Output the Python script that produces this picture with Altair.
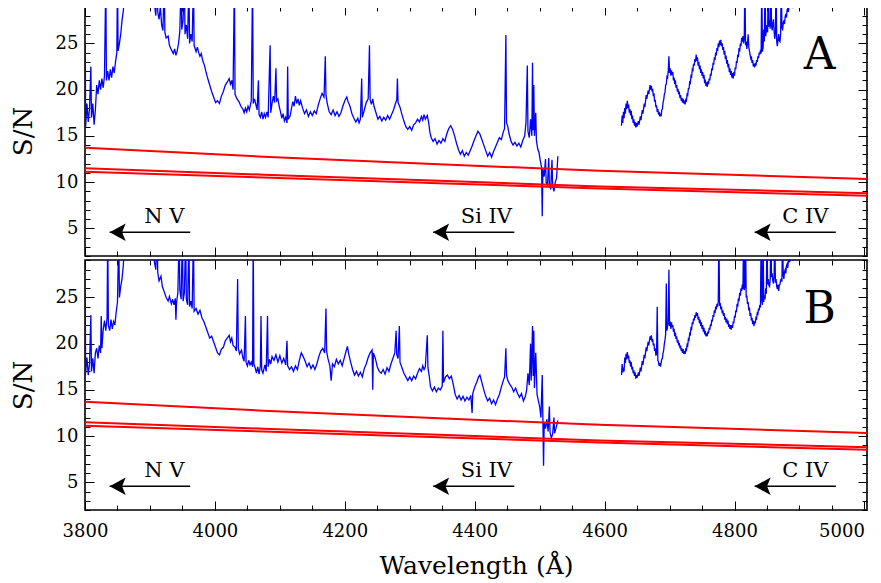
import altair as alt
import pandas as pd

FONT = "DejaVu Serif"
X_DOMAIN = [3800, 5004]
Y_DOMAIN = [2, 29.05]

# ---- Panel A spectrum (wavelength, S/N); values above 29 run off the top ----
A1 = [
    (3800, 16.3), (3800.5, 24.8), (3801, 16.0), (3803, 18.5), (3805, 16.5), (3807, 18.0), (3809, 22.5),
    (3810, 17.0), (3812, 18.5), (3814, 16.2), (3816, 17.8), (3818, 20.5), (3820, 19.5), (3822, 21.0),
    (3824, 20.0), (3826, 21.2), (3828, 20.2), (3830, 21.5), (3832, 32), (3833, 21.0), (3835, 22.0),
    (3837, 21.0), (3839, 22.2), (3841, 21.3), (3843, 22.5), (3845, 21.8), (3847, 23.0), (3849, 24.0),
    (3850, 32), (3851, 24.2), (3853, 25.0), (3855, 26.0), (3857, 27.5), (3859, 28.5), (3861, 30.5),
    (3905, 32), (3907, 29.2), (3909, 28.0), (3911, 32), (3912, 28.4), (3914, 27.6), (3916, 29.0),
    (3918, 27.0), (3920, 26.4), (3922, 32), (3923, 26.2), (3925, 25.6), (3928, 25.8), (3930, 24.8),
    (3933, 24.3), (3936, 23.9), (3938, 24.4), (3940, 23.7), (3942, 24.2), (3944, 25.0), (3946, 26.3),
    (3948, 32), (3949, 26.5), (3951, 27.5), (3953, 32), (3954, 26.0), (3956, 27.0), (3958, 25.5),
    (3960, 32), (3961, 25.0), (3963, 26.0), (3965, 25.2), (3967, 32), (3968, 24.8), (3971, 24.1),
    (3973, 24.6), (3975, 24.0), (3977, 23.6), (3979, 23.9), (3981, 23.2), (3984, 22.6), (3986, 22.0),
    (3989, 21.2), (3992, 20.5), (3995, 19.8), (3998, 19.2), (4001, 18.6), (4004, 18.8), (4007, 18.5),
    (4010, 19.3), (4013, 19.8), (4016, 20.5), (4019, 20.8), (4022, 21.2), (4024, 20.6), (4026, 21.0),
    (4028, 20.0), (4030, 32), (4031, 19.5), (4034, 19.0), (4037, 18.7), (4040, 18.2), (4043, 17.9),
    (4045, 17.5), (4047, 18.0), (4049, 17.6), (4051, 18.2), (4053, 17.8), (4056, 18.8), (4058, 32),
    (4059, 18.5), (4061, 19.0), (4063, 18.4), (4065, 17.8), (4067, 21.0), (4068, 17.3), (4070, 17.0),
    (4072, 17.6), (4074, 16.8), (4076, 17.4), (4078, 17.0), (4080, 17.6), (4082, 17.0), (4085, 24.8),
    (4086, 17.5), (4088, 18.5), (4090, 19.3), (4092, 18.6), (4094, 22.3), (4095, 18.8), (4097, 19.0),
    (4099, 18.2), (4101, 17.6), (4103, 16.9), (4105, 17.4), (4107, 16.6), (4109, 17.0), (4111, 16.4),
    (4112, 22.5), (4113, 16.8), (4116, 17.2), (4118, 18.0), (4120, 18.7), (4122, 18.2), (4124, 19.3),
    (4126, 18.5), (4128, 19.0), (4130, 18.3), (4132, 18.8), (4135, 18.0), (4138, 17.4), (4141, 17.8),
    (4144, 17.1), (4147, 17.6), (4150, 17.2), (4153, 17.7), (4156, 17.4), (4159, 18.3), (4162, 19.0),
    (4165, 19.6), (4168, 19.2), (4170, 23.6), (4171, 19.4), (4173, 18.5), (4176, 17.6), (4179, 17.3),
    (4182, 17.8), (4185, 17.2), (4188, 17.6), (4191, 17.1), (4194, 17.5), (4197, 18.2), (4200, 18.8),
    (4203, 19.2), (4205, 18.7), (4208, 18.2), (4211, 17.4), (4214, 16.9), (4217, 16.5), (4220, 16.9),
    (4222, 16.4), (4224, 16.8), (4226, 21.2), (4227, 17.0), (4230, 17.8), (4233, 18.6), (4236, 19.0),
    (4238, 24.8), (4239, 18.9), (4241, 18.4), (4243, 19.0), (4245, 18.2), (4248, 17.5), (4251, 16.8),
    (4254, 17.1), (4257, 16.6), (4260, 17.0), (4263, 16.7), (4266, 17.2), (4269, 16.8), (4272, 17.3),
    (4275, 17.8), (4278, 18.5), (4280, 18.9), (4281, 21.2), (4282, 18.6), (4285, 18.1), (4288, 17.3),
    (4291, 16.6), (4294, 16.0), (4297, 15.7), (4300, 16.0), (4303, 15.6), (4306, 16.2), (4309, 16.4),
    (4312, 16.8), (4315, 16.5), (4318, 17.1), (4320, 16.7), (4322, 17.3), (4324, 16.8), (4327, 17.2),
    (4329, 16.5), (4331, 15.4), (4333, 14.8), (4336, 14.4), (4339, 14.7), (4342, 14.1), (4345, 14.5),
    (4348, 14.2), (4351, 14.7), (4354, 14.4), (4357, 15.2), (4360, 15.8), (4363, 16.1), (4366, 15.7),
    (4369, 15.0), (4372, 14.2), (4375, 13.5), (4378, 13.0), (4381, 13.4), (4384, 12.8), (4387, 13.2),
    (4390, 12.9), (4393, 13.4), (4396, 13.9), (4399, 14.5), (4402, 15.0), (4405, 15.5), (4408, 15.2),
    (4411, 14.6), (4414, 14.0), (4417, 13.4), (4420, 12.8), (4423, 13.2), (4426, 12.7), (4429, 13.3),
    (4432, 13.8), (4435, 14.3), (4438, 14.8), (4441, 14.6), (4444, 15.4), (4446, 15.8), (4448, 25.9),
    (4449, 16.4), (4451, 16.0), (4453, 15.2), (4456, 14.4), (4459, 14.0), (4462, 14.3), (4465, 13.9),
    (4468, 14.2), (4471, 13.8), (4474, 14.5), (4477, 15.0), (4479, 16.5), (4481, 22.6), (4482, 15.5),
    (4484, 14.8), (4486, 16.8), (4488, 15.0), (4489, 22.9), (4490, 15.6), (4491, 20.5), (4492, 15.0),
    (4494, 17.5), (4495, 14.5), (4497, 13.6), (4499, 13.2), (4501, 12.3), (4503, 11.6), (4504, 6.3),
    (4505, 11.4), (4507, 10.6), (4509, 12.5), (4510, 10.0), (4512, 9.6), (4514, 12.6), (4515, 9.8),
    (4517, 9.2), (4519, 12.4), (4520, 9.6), (4522, 9.0), (4524, 10.0), (4526, 10.4), (4528, 12.8),
]
A2 = [
    (4626, 16.1), (4627, 17.2), (4628, 16.4), (4629, 17.6), (4630, 16.9), (4631, 18.0), (4632, 17.4),
    (4633, 18.5), (4634, 17.9), (4635, 18.8), (4636, 18.0), (4637, 18.4), (4638, 17.5), (4639, 17.9),
    (4640, 17.2), (4641, 17.7), (4642, 16.8), (4643, 17.2), (4644, 16.4), (4645, 16.8), (4646, 16.1),
    (4647, 16.5), (4648, 15.9), (4649, 16.4), (4650, 16.0), (4652, 16.6), (4653, 16.2), (4655, 17.1),
    (4656, 16.7), (4658, 17.8), (4659, 17.4), (4661, 18.5), (4662, 18.1), (4664, 19.4), (4665, 19.0),
    (4667, 19.9), (4668, 19.5), (4670, 20.5), (4671, 20.0), (4672, 20.4), (4673, 19.8), (4674, 20.1),
    (4675, 19.3), (4676, 19.6), (4677, 18.7), (4678, 18.9), (4679, 18.1), (4680, 18.3), (4681, 17.6),
    (4682, 17.9), (4683, 17.3), (4684, 17.6), (4685, 17.1), (4686, 17.4), (4687, 17.1), (4688, 17.8),
    (4689, 17.9), (4690, 18.6), (4691, 18.9), (4692, 19.5), (4693, 19.7), (4694, 20.5), (4695, 20.6),
    (4696, 21.4), (4697, 21.3), (4698, 22.0), (4699, 23.6), (4700, 21.8), (4701, 22.3), (4702, 21.5),
    (4703, 22.1), (4704, 21.6), (4705, 21.9), (4706, 21.0), (4707, 21.3), (4708, 20.6), (4709, 21.0),
    (4710, 20.2), (4711, 20.5), (4712, 19.8), (4713, 20.1), (4714, 19.5), (4715, 19.8), (4716, 19.1),
    (4717, 19.4), (4718, 18.8), (4719, 19.1), (4720, 18.6), (4721, 19.0), (4722, 18.5), (4723, 18.8),
    (4724, 18.4), (4725, 18.9), (4726, 18.8), (4727, 19.5), (4728, 19.4), (4729, 20.1), (4730, 20.1),
    (4731, 20.8), (4732, 20.7), (4733, 21.5), (4734, 21.4), (4735, 22.2), (4736, 22.1), (4737, 22.8),
    (4738, 22.6), (4739, 23.3), (4740, 23.0), (4741, 23.8), (4742, 23.1), (4743, 23.5), (4744, 22.6),
    (4745, 23.0), (4746, 22.2), (4747, 22.6), (4748, 21.8), (4749, 22.2), (4750, 21.5), (4751, 21.9),
    (4752, 21.2), (4753, 21.6), (4754, 20.7), (4755, 21.1), (4756, 20.4), (4757, 20.8), (4758, 20.3),
    (4759, 20.9), (4760, 20.6), (4761, 21.2), (4762, 21.0), (4763, 21.7), (4764, 21.5), (4765, 22.3),
    (4766, 22.1), (4767, 22.9), (4768, 22.7), (4769, 23.5), (4770, 23.2), (4771, 24.0), (4772, 23.7),
    (4773, 24.5), (4774, 24.2), (4775, 25.0), (4776, 24.6), (4777, 25.3), (4778, 24.8), (4779, 25.4),
    (4780, 24.7), (4781, 25.0), (4782, 24.3), (4783, 24.6), (4784, 23.8), (4785, 24.2), (4786, 23.3),
    (4787, 23.7), (4788, 22.8), (4789, 23.2), (4790, 22.4), (4791, 22.8), (4792, 21.9), (4793, 22.3),
    (4794, 21.6), (4795, 22.0), (4796, 21.3), (4797, 21.8), (4798, 21.2), (4799, 21.9), (4800, 21.5),
    (4801, 22.4), (4802, 22.2), (4803, 23.1), (4804, 22.9), (4805, 23.8), (4806, 23.5), (4807, 24.5),
    (4808, 24.1), (4809, 25.0), (4810, 24.7), (4811, 25.6), (4812, 25.2), (4813, 25.8), (4814, 25.0),
    (4815, 25.4), (4816, 32), (4817, 24.8), (4818, 25.2), (4819, 24.4), (4820, 25.0), (4821, 26.0),
    (4822, 24.6), (4823, 24.2), (4824, 23.8), (4825, 23.4), (4826, 23.6), (4827, 22.9), (4828, 23.2),
    (4829, 22.5), (4830, 22.8), (4831, 22.4), (4832, 22.9), (4833, 22.6), (4834, 23.2), (4835, 23.0),
    (4836, 23.6), (4837, 23.4), (4838, 24.0), (4839, 23.8), (4840, 24.3), (4841, 23.9), (4842, 32),
    (4843, 24.1), (4844, 24.5), (4845, 26.5), (4846, 25.2), (4847, 32), (4848, 25.8), (4849, 26.3),
    (4850, 27.0), (4851, 26.2), (4852, 32), (4853, 26.8), (4854, 27.5), (4855, 26.6), (4856, 32),
    (4857, 27.0), (4858, 26.4), (4859, 27.2), (4860, 27.6), (4861, 26.3), (4862, 25.5), (4863, 26.1),
    (4864, 32), (4865, 25.2), (4866, 24.7), (4867, 25.4), (4868, 26.0), (4869, 25.3), (4870, 25.2),
    (4871, 26.0), (4872, 32), (4873, 26.8), (4874, 26.4), (4875, 27.2), (4876, 27.5), (4877, 27.1),
    (4878, 27.9), (4879, 28.2), (4880, 27.8), (4881, 28.6), (4882, 28.8), (4883, 28.4), (4884, 29.2),
    (4885, 29.5), (4886, 29.0), (4887, 30), (4888, 32), (4890, 28.8), (4893, 32),
]

# ---- Panel B spectrum ----
B1 = [
    (3800, 16.5), (3800.5, 25.5), (3801, 16.8), (3803, 18.5), (3805, 16.6), (3807, 17.8), (3809, 23.1),
    (3810, 17.0), (3812, 18.4), (3814, 16.8), (3816, 19.0), (3818, 19.5), (3820, 18.4), (3822, 19.8),
    (3824, 19.0), (3825, 23.0), (3826, 19.5), (3828, 21.5), (3830, 22.5), (3832, 21.4), (3834, 22.8),
    (3835, 32), (3836, 22.0), (3838, 21.4), (3840, 22.6), (3842, 21.6), (3844, 22.4), (3846, 22.0),
    (3848, 23.4), (3850, 24.5), (3852, 32), (3853, 25.0), (3855, 26.2), (3857, 27.0), (3859, 28.5),
    (3861, 31), (3905, 32), (3907, 28.8), (3909, 28.0), (3911, 32), (3912, 27.7), (3914, 26.8),
    (3917, 27.3), (3919, 26.2), (3922, 25.6), (3925, 25.0), (3928, 24.6), (3930, 25.1), (3933, 24.3),
    (3935, 24.8), (3937, 24.2), (3939, 24.9), (3940, 22.6), (3941, 24.5), (3943, 25.5), (3945, 32),
    (3946, 25.8), (3948, 24.8), (3950, 32), (3951, 24.6), (3953, 25.5), (3955, 32), (3956, 24.8),
    (3958, 24.2), (3960, 32), (3961, 24.0), (3963, 24.6), (3965, 23.8), (3967, 32), (3968, 23.5),
    (3971, 23.8), (3974, 23.2), (3977, 23.6), (3980, 22.8), (3983, 22.4), (3986, 21.8), (3989, 21.2),
    (3992, 20.6), (3995, 20.8), (3998, 20.2), (4001, 19.6), (4004, 19.0), (4007, 18.8), (4010, 19.4),
    (4013, 19.6), (4016, 20.3), (4019, 20.6), (4022, 20.9), (4024, 20.2), (4026, 20.6), (4028, 19.8),
    (4031, 19.6), (4033, 19.2), (4035, 27.0), (4036, 19.5), (4038, 18.9), (4041, 19.3), (4043, 18.5),
    (4045, 18.1), (4047, 23.0), (4048, 18.0), (4050, 17.6), (4052, 18.2), (4054, 17.7), (4056, 18.0),
    (4058, 17.5), (4059, 32), (4060, 17.8), (4062, 17.4), (4064, 16.8), (4066, 17.5), (4068, 16.7),
    (4070, 17.6), (4071, 23.0), (4072, 17.2), (4074, 16.8), (4077, 17.7), (4079, 17.0), (4081, 23.0),
    (4082, 17.5), (4084, 18.3), (4086, 17.8), (4088, 18.6), (4091, 18.2), (4094, 18.8), (4097, 18.0),
    (4100, 18.7), (4103, 17.9), (4106, 18.4), (4109, 17.7), (4111, 20.3), (4112, 17.6), (4115, 17.2),
    (4118, 17.5), (4121, 17.0), (4124, 17.6), (4127, 17.2), (4130, 18.2), (4133, 19.0), (4136, 18.6),
    (4139, 18.1), (4142, 17.5), (4145, 17.9), (4148, 17.3), (4151, 17.7), (4154, 17.2), (4157, 17.8),
    (4160, 18.6), (4163, 19.2), (4166, 19.5), (4169, 19.0), (4171, 23.8), (4172, 19.2), (4174, 18.4),
    (4177, 17.6), (4179, 16.0), (4181, 17.8), (4184, 17.5), (4187, 18.3), (4190, 17.8), (4193, 18.2),
    (4196, 17.6), (4199, 18.4), (4202, 19.2), (4204, 19.7), (4206, 18.9), (4209, 18.0), (4212, 17.2),
    (4215, 16.6), (4218, 17.0), (4221, 16.5), (4224, 16.9), (4227, 16.4), (4230, 17.3), (4233, 17.8),
    (4236, 18.5), (4239, 19.0), (4242, 19.3), (4243, 15.0), (4244, 19.0), (4247, 18.4), (4250, 17.5),
    (4253, 17.0), (4256, 16.8), (4259, 17.2), (4262, 16.7), (4265, 17.4), (4268, 17.0), (4271, 17.8),
    (4274, 18.4), (4277, 19.0), (4279, 21.4), (4280, 18.8), (4282, 18.4), (4284, 21.9), (4285, 18.0),
    (4288, 17.4), (4291, 16.8), (4294, 16.4), (4297, 16.0), (4300, 16.4), (4303, 16.0), (4306, 16.5),
    (4309, 16.2), (4312, 16.8), (4315, 17.3), (4318, 17.0), (4320, 17.6), (4322, 17.2), (4324, 17.5),
    (4327, 20.9), (4328, 17.4), (4330, 16.5), (4332, 15.3), (4335, 14.9), (4338, 15.3), (4341, 14.8),
    (4344, 15.2), (4347, 15.0), (4350, 15.4), (4351, 21.4), (4352, 15.8), (4355, 16.4), (4358, 16.6),
    (4361, 16.2), (4364, 16.5), (4367, 15.6), (4370, 14.5), (4373, 14.0), (4376, 14.4), (4379, 13.9),
    (4382, 14.3), (4385, 13.8), (4388, 14.2), (4391, 13.9), (4394, 14.4), (4396, 12.5), (4397, 14.6),
    (4400, 15.3), (4403, 15.8), (4406, 16.4), (4408, 16.6), (4411, 15.8), (4414, 15.0), (4417, 14.3),
    (4420, 13.8), (4423, 14.1), (4426, 13.5), (4429, 13.9), (4432, 13.4), (4435, 14.0), (4438, 14.5),
    (4441, 15.3), (4444, 16.0), (4446, 16.4), (4448, 19.5), (4449, 16.6), (4451, 16.0), (4454, 15.6),
    (4457, 15.3), (4460, 14.8), (4463, 15.2), (4466, 14.6), (4469, 14.2), (4472, 14.6), (4475, 13.8),
    (4478, 14.3), (4480, 15.0), (4482, 16.8), (4484, 15.5), (4486, 20.0), (4487, 16.0), (4489, 21.9),
    (4490, 16.5), (4491, 21.4), (4492, 15.2), (4494, 19.0), (4496, 14.5), (4498, 13.8), (4500, 13.2),
    (4502, 12.0), (4504, 16.6), (4505, 11.8), (4506, 6.8), (4507, 11.5), (4509, 10.8), (4511, 11.8),
    (4513, 10.5), (4515, 13.2), (4516, 10.4), (4518, 9.8), (4520, 10.2), (4522, 12.0), (4523, 10.3),
    (4525, 10.8), (4528, 11.7),
]
B2 = [
    (4626, 16.6), (4627, 17.8), (4628, 16.9), (4629, 17.4), (4630, 17.0), (4631, 18.5), (4632, 17.9),
    (4633, 18.9), (4634, 18.3), (4635, 19.1), (4636, 18.4), (4637, 18.7), (4638, 17.9), (4639, 18.2),
    (4640, 17.5), (4641, 18.0), (4642, 17.2), (4643, 17.5), (4644, 16.8), (4645, 17.1), (4646, 16.5),
    (4647, 16.9), (4648, 16.2), (4649, 16.6), (4650, 16.3), (4652, 16.9), (4653, 16.5), (4655, 17.4),
    (4656, 17.0), (4658, 18.1), (4659, 17.7), (4661, 18.8), (4662, 18.4), (4664, 19.6), (4665, 19.2),
    (4667, 20.2), (4668, 19.8), (4670, 20.8), (4671, 20.4), (4672, 20.9), (4673, 20.2), (4674, 20.5),
    (4675, 19.8), (4676, 20.0), (4677, 19.2), (4678, 19.5), (4679, 18.7), (4680, 18.9), (4681, 24.0),
    (4682, 18.2), (4683, 18.0), (4684, 17.6), (4685, 17.9), (4686, 17.5), (4687, 17.9), (4688, 18.3),
    (4689, 18.4), (4690, 19.0), (4691, 19.3), (4692, 20.0), (4693, 20.4), (4694, 21.0), (4695, 26.5),
    (4696, 21.4), (4697, 21.9), (4698, 22.2), (4699, 28.0), (4700, 21.9), (4701, 22.4), (4702, 21.6),
    (4703, 22.3), (4704, 21.8), (4705, 22.0), (4706, 21.3), (4707, 21.6), (4708, 20.8), (4709, 21.2),
    (4710, 20.5), (4711, 20.8), (4712, 20.1), (4713, 20.4), (4714, 19.8), (4715, 20.1), (4716, 19.5),
    (4717, 19.8), (4718, 19.2), (4719, 19.5), (4720, 19.0), (4721, 19.4), (4722, 18.9), (4723, 19.2),
    (4724, 18.9), (4725, 19.4), (4726, 19.3), (4727, 19.9), (4728, 19.8), (4729, 20.5), (4730, 20.4),
    (4731, 21.1), (4732, 21.0), (4733, 21.7), (4734, 21.6), (4735, 22.3), (4736, 22.1), (4737, 22.7),
    (4738, 22.5), (4739, 23.1), (4740, 22.8), (4741, 23.4), (4742, 23.0), (4743, 23.3), (4744, 22.6),
    (4745, 22.9), (4746, 22.2), (4747, 22.6), (4748, 21.9), (4749, 22.3), (4750, 21.6), (4751, 22.0),
    (4752, 21.3), (4753, 21.7), (4754, 21.0), (4755, 21.4), (4756, 20.8), (4757, 21.1), (4758, 20.8),
    (4759, 21.3), (4760, 21.1), (4761, 21.7), (4762, 21.5), (4763, 22.1), (4764, 21.9), (4765, 22.6),
    (4766, 22.4), (4767, 23.1), (4768, 22.9), (4769, 23.6), (4770, 23.3), (4771, 24.0), (4772, 23.7),
    (4773, 24.3), (4774, 24.0), (4775, 24.6), (4776, 32), (4777, 24.1), (4778, 24.4), (4779, 23.7),
    (4780, 24.0), (4781, 23.3), (4782, 23.6), (4783, 23.0), (4784, 23.3), (4785, 22.6), (4786, 22.9),
    (4787, 22.3), (4788, 22.7), (4789, 22.1), (4790, 22.5), (4791, 21.8), (4792, 22.1), (4793, 21.6),
    (4794, 22.0), (4795, 21.5), (4796, 22.0), (4797, 21.7), (4798, 22.4), (4799, 22.2), (4800, 23.0),
    (4801, 22.8), (4802, 23.6), (4803, 23.4), (4804, 24.3), (4805, 24.0), (4806, 24.9), (4807, 24.6),
    (4808, 25.5), (4809, 25.2), (4810, 26.0), (4811, 25.7), (4812, 26.4), (4813, 25.9), (4814, 32),
    (4815, 25.8), (4816, 26.2), (4817, 32), (4818, 25.0), (4819, 25.2), (4820, 24.3), (4821, 24.5),
    (4822, 23.6), (4823, 23.9), (4824, 23.0), (4825, 23.3), (4826, 22.5), (4827, 22.8), (4828, 22.1),
    (4829, 22.5), (4830, 21.9), (4831, 22.4), (4832, 22.2), (4833, 22.8), (4834, 22.7), (4835, 23.3),
    (4836, 23.2), (4837, 23.8), (4838, 23.6), (4839, 24.2), (4840, 23.9), (4841, 32), (4842, 24.7),
    (4843, 24.2), (4844, 32), (4845, 24.5), (4846, 25.2), (4847, 24.8), (4848, 26.0), (4849, 25.4),
    (4850, 32), (4851, 26.4), (4852, 27.0), (4853, 26.3), (4854, 26.2), (4855, 27.0), (4856, 32),
    (4857, 27.2), (4858, 27.6), (4859, 26.8), (4860, 26.5), (4861, 27.3), (4862, 32), (4863, 26.6),
    (4864, 27.0), (4865, 26.2), (4866, 25.9), (4867, 26.4), (4868, 25.7), (4869, 26.3), (4870, 26.4),
    (4871, 26.9), (4872, 27.0), (4873, 26.7), (4874, 32), (4875, 27.4), (4876, 27.0), (4877, 27.8),
    (4878, 28.0), (4879, 27.6), (4880, 28.4), (4881, 28.6), (4882, 28.2), (4883, 29.0), (4884, 29.2),
    (4885, 28.8), (4886, 29.6), (4887, 32), (4890, 29.0), (4893, 32),
]

# ---- Red threshold curves (same in both panels) ----
red_wl = [3800, 4075, 4345, 4592, 5004]
red_top = [13.7, 12.75, 11.92, 11.23, 10.33]
red_mid = [11.49, 10.8, 10.14, 9.53, 8.8]
red_low = [11.12, 10.5, 9.86, 9.31, 8.51]

# ---- Ion markers ----
ion_names = ["N V", "Si IV", "C IV"]
arrow_tip = [3838, 4336, 4831]
arrow_tail = [3962, 4461, 4956]
label_x = [3922, 4418, 4909]
arrow_y = [4.57, 4.57, 4.57]
label_y = [5.58, 5.58, 5.58]

letter_x = 4931
letter_y = 22.2

major_x = [3800, 4000, 4200, 4400, 4600, 4800, 5000]
minor_x = list(range(3800, 5001, 50))
major_y = [5, 10, 15, 20, 25]
minor_y = list(range(2, 30))

MAJ = 9
MIN = 5


def axis(orient, values, size, labels=False, title=None):
    kw = dict(orient=orient, values=values, tickSize=size, offset=-size, domain=False,
              grid=False, labels=labels, tickColor="black", tickWidth=1, title=title,
              minExtent=0)
    if labels:
        kw.update(labelFont=FONT, labelFontSize=18, labelColor="black", format="d",
                  labelFlush=False)
        if orient in ("bottom", "top"):
            kw.update(labelPadding=12,
                      labelAlign={"condition": {"test": "datum.value >= 5000", "value": "right"},
                                  "value": "center"})
        else:
            kw.update(labelPadding=7)
    if title:
        kw.update(titleFont=FONT, titleFontWeight="normal", titleColor="black")
        if orient == "bottom":
            kw.update(titleFontSize=25, titlePadding=13)
        else:
            kw.update(titleFontSize=26, titlePadding=19)
    return alt.Axis(**kw)


def panel(seg1, seg2, letter, height, show_x):
    spec = pd.DataFrame({
        "wl": [p[0] for p in seg1] + [p[0] for p in seg2],
        "sn": [p[1] for p in seg1] + [p[1] for p in seg2],
        "seg": [1] * len(seg1) + [2] * len(seg2),
    })
    red = pd.DataFrame({
        "wl": red_wl * 3,
        "sn": red_top + red_mid + red_low,
        "line": ["top"] * 5 + ["mid"] * 5 + ["low"] * 5,
    })
    ions = pd.DataFrame({"name": ion_names, "tip": arrow_tip, "tail": arrow_tail,
                         "lx": label_x, "ay": arrow_y, "ly": label_y})
    let = pd.DataFrame({"t": [letter], "lx": [letter_x], "ly": [letter_y]})

    xs = alt.Scale(domain=X_DOMAIN, nice=False, zero=False)
    ys = alt.Scale(domain=Y_DOMAIN, nice=False, zero=False)

    blue = alt.Chart(spec).mark_line(color="#0000ff", strokeWidth=1.3, clip=True).encode(
        x=alt.X("wl:Q", scale=xs,
                axis=axis("bottom", major_x, MAJ, labels=show_x,
                          title="Wavelength (Å)" if show_x else None)),
        y=alt.Y("sn:Q", scale=ys, axis=axis("left", major_y, MAJ, labels=True, title="S/N")),
        detail="seg:N",
    )
    reds = alt.Chart(red).mark_line(color="#ff0000", strokeWidth=2, clip=True).encode(
        x=alt.X("wl:Q", scale=xs, axis=axis("top", major_x, MAJ)),
        y=alt.Y("sn:Q", scale=ys, axis=axis("right", major_y, MAJ)),
        detail="line:N",
    )
    rules = alt.Chart(ions).mark_rule(color="black", strokeWidth=1.5).encode(
        x=alt.X("tip:Q", scale=xs, axis=axis("bottom", minor_x, MIN)),
        x2="tail:Q",
        y=alt.Y("ay:Q", scale=ys, axis=axis("left", minor_y, MIN)),
    )
    heads = alt.Chart(ions).mark_point(
        shape="M0,0 L2,-1.1 L1.55,0 L2,1.1 Z", filled=True, size=256, color="black",
        opacity=1, strokeWidth=0,
    ).encode(
        x=alt.X("tip:Q", scale=xs, axis=None),
        y=alt.Y("ay:Q", scale=ys, axis=None),
    )
    labels = alt.Chart(ions).mark_text(
        font=FONT, fontSize=21, color="black", align="center", baseline="alphabetic",
    ).encode(
        x=alt.X("lx:Q", scale=xs, axis=axis("top", minor_x, MIN)),
        y=alt.Y("ly:Q", scale=ys, axis=axis("right", minor_y, MIN)),
        text="name:N",
    )
    big = alt.Chart(let).mark_text(
        font=FONT, fontSize=44, color="black", align="center", baseline="alphabetic",
    ).encode(
        x=alt.X("lx:Q", scale=xs, axis=None),
        y=alt.Y("ly:Q", scale=ys, axis=None),
        text="t:N",
    )
    return alt.layer(blue, reds, rules, heads, labels, big).resolve_axis(
        x="independent", y="independent"
    ).properties(width=782, height=height)


chart = alt.vconcat(
    panel(A1, A2, "A", 250, False),
    panel(B1, B2, "B", 250, True),
    spacing=0,
).properties(
    padding={"left": 1, "top": -4, "right": 4, "bottom": 0},
    background="white",
).configure_view(stroke="black", strokeWidth=1.6)

chart.save("out.html", embed_options={"renderer": "svg", "actions": False})
